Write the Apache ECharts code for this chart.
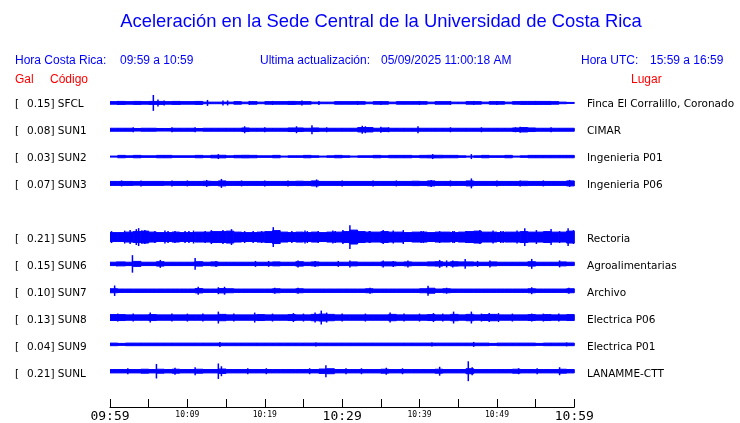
<!DOCTYPE html>
<html><head><meta charset="utf-8">
<script src="https://cdn.jsdelivr.net/npm/echarts@6/dist/echarts.min.js"></script>
<style>html,body{margin:0;padding:0;background:#fff}#c{width:740px;height:423px}</style>
</head><body><div id="c"></div>
<script>
// ---- data ----
const codes = ['SFCL','SUN1','SUN2','SUN3','SUN5','SUN6','SUN7','SUN8','SUN9','SUNL'];
const gals = ['0.15','0.08','0.03','0.07','0.21','0.15','0.10','0.13','0.04','0.21'];
const places = ['Finca El Corralillo, Coronado','CIMAR','Ingenieria P01','Ingenieria P06','Rectoria','Agroalimentarias','Archivo','Electrica P06','Electrica P01','LANAMME-CTT'];
const lanes = [13,40,67,94,148,175,202,229,256,283]; // trace baseline positions (vertical axis units)
const tickLabels = ['09:59','10:09','10:19','10:29','10:39','10:49','10:59'];
const bigLabels = ['09:59','10:29','10:59'];

// envelope half-width per minute (0..59)
const envSFCL = [1.3,1.5,1.3,1.5,1.3, 1.5,1.5,1.3,1.5,1.3, 1.3,1.5,0.8,0.8,0.8, 0.8,1.3,0.8,1.3,0.8, 1.3,1.3,1.3,1.5,1.3, 1.3,0.8,0.8,0.8,1.3, 1.3,1.3,1.3,0.8,1.3, 1.3,0.8,1.3,1.3,1.3, 1.3,0.8,1.3,1.3,0.8, 0.8,1.3,1.3,0.8,1.3, 1.3,0.8,1.3,1.5,1.5, 1.5,1.5,1.3,0.8,0.5];
const envSUN1 = [1.5,1.5,1.5,1.3,1.5, 1.5,1.3,1.3,1.5,1.5, 1.5,1.3,1.5,1.5,1.5, 1.5,1.5,1.8,1.5,1.5, 1.5,1.5,1.5,1.8,1.8, 1.5,1.8,1.5,1.5,1.5, 1.5,1.5,2.2,2.2,1.5, 1.8,1.5,1.5,1.5,1.5, 1.5,1.5,1.5,1.5,1.5, 1.5,1.5,1.5,1.5,1.5, 1.5,1.5,1.8,2.2,1.8, 1.5,1.5,1.5,1.5,1.5];
const envSUN2 = [0.5,1.2,0.8,1.2,0.8, 0.8,1.2,1.2,0.8,0.8, 0.8,1.2,0.8,1.3,1.3, 0.8,1.2,1.3,1.2,0.8, 0.8,1.2,0.5,0.8,0.8, 1.2,0.8,0.5,0.8,1.2, 0.8,0.5,0.8,0.8,1.2, 0.8,1.2,1.2,1.2,0.8, 1.2,1.3,1.3,1.2,1.2, 0.8,0.5,0.8,1.2,0.8, 0.8,1.2,0.5,0.8,1.2, 1.2,1.2,1.2,1.2,1.2];
const envSUN3 = [2,2,2,1.8,2, 2,2,1.8,2,2, 2,2,2.2,2,2.5, 2,2,2,2,2, 2,2,2,2,2.2, 2,2.5,2,2,2, 2,2,2,2,2, 2,2,2,2,2.2, 2,2.5,2,2,2, 2,2.5,2,2,2, 2,2,2,2.2,2, 2,2,2,2,2.5];
const envSUN5 = [4.5,4.5,5,5.5,6, 5,4.5,4.5,5,4.5, 4.5,5,5,5.5,5.5, 6,5,4.5,4.5,5, 5.5,6.5,5,4.5,5, 4.5,5,4.5,5,5, 5.5,7,5.5,5,5, 5.5,5,5,4.5,5, 5,4.5,5,5,4.5, 5,5.5,6,5,5, 4.5,5,5,5.5,5, 5,5.5,5,5,6];
const envSUN6 = [1.7,2,1.7,2.5,1.7, 1.7,2.2,1.7,1.7,1.7, 1.7,2.2,1.7,2,1.7, 1.7,1.7,1.7,1.7,1.7, 1.7,2,1.7,1.7,2.2, 1.7,2,1.7,1.7,1.7, 1.7,2,1.7,1.7,1.7, 2,2,1.7,2,1.7, 1.7,2,2.2,1.7,2.2, 2,2,1.7,1.7,2, 1.7,1.7,1.7,1.7,2.2, 1.7,1.7,1.7,2,1.7];
const envSUN7 = [2,1.7,1.7,1.7,1.7, 1.7,1.7,1.7,1.7,1.7, 1.7,2.2,1.7,1.7,2.2, 2,1.7,1.7,1.7,1.7, 1.7,2,1.7,1.7,2, 1.7,1.7,1.7,1.7,1.7, 1.7,1.7,1.7,2,1.7, 1.7,1.7,1.7,1.7,1.7, 2,2.5,1.7,2,1.7, 1.7,1.7,1.7,1.7,1.7, 1.7,1.7,1.7,1.7,2, 1.7,1.7,1.7,1.7,2];
const envSUN8 = [3,3,2.7,2.7,2.7, 3,2.7,2.7,2.7,2.7, 2.7,2.7,2.7,2.7,3.2, 2.7,2.7,2.7,2.7,3, 2.7,2.7,2.7,3,2.7, 2.7,3.2,3.5,3.2,2.7, 2.7,2.7,2.7,2.7,2.7, 2.7,3.2,2.7,2.7,2.7, 2.7,3,2.7,2.7,3.2, 2.7,3.2,2.7,3,3.2, 2.7,2.7,2.7,2.7,3, 2.7,3,2.7,2.7,3];
const envSUN9 = [1.3,1.0,1.3,1.3,1.3, 1.3,1.3,1.3,1.3,1.3, 1.3,1.3,1.3,1.3,1.3, 1.3,1.3,1.3,1.3,1.3, 1.3,1.3,1.3,1.3,1.3, 1.3,1.3,1.3,1.3,1.3, 1.3,1.3,1.3,1.3,1.3, 1.3,1.3,1.3,1.3,1.3, 1.3,1.3,1.3,1.3,1.3, 1.3,1.3,1.3,1.3,1.0, 1.3,1.3,1.3,1.3,1.3, 1.0,1.3,1.3,1.3,1.3];
const envSUNL = [1.7,1.7,1.7,1.7,2, 1.7,2,1.7,2,1.7, 1.7,2,1.7,1.7,2.2, 1.7,1.7,1.7,1.7,1.7, 1.7,1.7,1.7,1.7,1.7, 1.7,1.7,2.2,2.5,1.7, 1.7,1.7,1.7,1.7,1.7, 2,1.7,1.7,1.7,1.7, 1.7,1.7,2,1.7,1.7, 1.7,2.5,1.7,1.7,1.7, 1.7,1.7,2,1.7,1.7, 1.7,1.7,1.7,2,1.7];

// spikes: [minute, half-height]
const spkSFCL = [[1,2],[5.6,8],[6.2,3.5],[7.0,2.5],[9,2],[12.6,3],[14.6,2.5],[15.2,2.5],[18,2],[21,2],[24.8,2.5],[27,2],[32,2],[35,2],[40,2],[44,2],[47,2],[50,2],[55,2]];
const spkSUN1 = [[3,2.5],[8,2.5],[11,2.5],[17.4,3.5],[20,2.5],[24.1,3.5],[26.1,4.5],[28,2.5],[32.6,4],[33.0,3.5],[35,3],[36,2.5],[39.8,3.5],[44,2.5],[48,2.5],[52.4,2.5],[53,3],[57,2.5]];
const spkSUN2 = [[14,2.5],[41.7,2.5],[46.7,2.5]];
const spkSUN3 = [[1.5,3],[4,3],[8,3],[10,3],[12.5,3.5],[14.4,4.5],[17,3],[20,3],[23,3],[26.7,4],[30,3],[34,3],[37,3],[41.5,3.5],[44,3],[46.7,5],[50,3],[53,3],[56,3],[59.4,3.5]];
const spkSUN5 = [[0.2,6],[1.9,6.5],[2.6,7],[3.4,8],[3.7,9],[4.1,6.5],[4.5,7],[5.8,6],[7.1,6.5],[7.5,6],[8.4,6],[9.7,6],[10.2,6],[10.8,6.5],[12.3,6],[13.1,7],[14.6,7],[15.7,8],[17.4,6],[18.5,6],[19.6,6],[21.1,10],[21.8,7],[23.5,6],[25.2,6.5],[25.5,6],[26.9,6],[28.8,6.5],[29.1,6],[30.1,7],[31,12],[31.9,7],[33.5,6],[33.6,6],[35.3,7],[36.6,6.5],[37.9,7],[40.2,6],[40.5,6],[42.6,6],[44.3,6],[44.5,6],[46.0,6],[47.8,7],[49.5,6.5],[50.5,6],[50.8,6],[52.6,6.5],[53.6,9],[55.1,7],[57,8],[58.1,6],[59.2,9],[59.9,7]];
const spkSUN6 = [[0.9,2.5],[2.9,8.8],[6.5,4],[11,6],[13.7,3],[18.8,3],[20.5,3],[24.3,3.5],[26.5,3],[29.5,3],[31,3.5],[35.3,3.5],[36.6,3],[38.5,3.5],[42.6,4],[43.5,3.5],[44.3,3.5],[45.9,5],[47.5,3],[49.1,3.5],[54.5,5],[58.1,3.5]];
const spkSUN7 = [[0.6,5.3],[11.4,4],[14,3.5],[14.8,4],[21.3,3],[24.3,3],[33.6,3],[41.1,5],[43.5,3],[54.5,3.5],[59.3,3]];
const spkSUN8 = [[1,4],[3,4],[5.2,5],[8,4],[10,4],[12,4],[14,6],[16,4],[18.7,5],[21,4],[23.7,4.5],[25,4],[26.5,5],[27.3,7],[28.0,5],[30,4],[33,4],[36.2,5],[38,4],[40,4],[41.8,4.5],[43,4],[44.4,6],[46.7,6],[48,4],[49,4.5],[50.2,4.5],[52,4],[54.5,4],[56,4],[58,4]];
const spkSUN9 = [[14.2,2.5],[26.6,2],[41.6,2],[47,2.5],[59,2]];
const spkSUNL = [[2.3,3],[6,7.3],[8.4,3.5],[11,4],[14,7.8],[14.4,5],[17.8,3],[20.2,3],[25.8,3],[27.9,6],[30.5,3],[32.5,3],[35.7,3.5],[37.8,3],[42.6,4.5],[46.3,10],[46.8,4],[52.8,3],[55.2,3],[58.1,4]];

const envs = [envSFCL,envSUN1,envSUN2,envSUN3,envSUN5,envSUN6,envSUN7,envSUN8,envSUN9,envSUNL];
const spks = [spkSFCL,spkSUN1,spkSUN2,spkSUN3,spkSUN5,spkSUN6,spkSUN7,spkSUN8,spkSUN9,spkSUNL];

// ---- build ----
const BLUE = '#0000ff';
const envData = [], spkData = [];
envs.forEach((arr, k) => arr.forEach((a, i) => envData.push([i + 0.5, a, lanes[k]])));
spks.forEach((arr, k) => arr.forEach(s => spkData.push([s[0], s[1], lanes[k]])));

// traces drawn with a 1px pen: the envelope is stroked as well as filled
function envItem(params, api) {
  const t = api.value(0), a = Math.max(api.value(1), 0.3), lane = api.value(2);
  const p1 = api.coord([t - 0.5, lane - a]), p2 = api.coord([t + 0.5, lane + a]);
  return { type: 'rect', shape: { x: p1[0], y: Math.min(p1[1], p2[1]), width: p2[0] - p1[0], height: Math.abs(p2[1] - p1[1]) }, style: { fill: BLUE, stroke: BLUE, lineWidth: 1 } };
}
function spkItem(params, api) {
  const t = api.value(0), a = api.value(1), lane = api.value(2);
  const p1 = api.coord([t, lane - a]), p2 = api.coord([t, lane + a]);
  return { type: 'rect', shape: { x: p1[0] - 0.75, y: Math.min(p1[1], p2[1]), width: 1.5, height: Math.abs(p2[1] - p1[1]) }, style: { fill: BLUE } };
}

const graphics = [];
const txt = (x, y, s, o) => graphics.push(Object.assign({ type: 'text', x: x, y: y, style: Object.assign({ text: s, fill: '#000', font: '10.5px "DejaVu Sans"', textVerticalAlign: 'middle' }, o || {}) }));
txt(381, 22, 'Aceleración en la Sede Central de la Universidad de Costa Rica', { fill: BLUE, font: '18.4px "Liberation Sans"', textAlign: 'center' });
const hf = '12px "Liberation Sans"';
txt(15, 61, 'Hora Costa Rica:', { fill: BLUE, font: hf });
txt(120, 61, '09:59 a 10:59', { fill: BLUE, font: hf });
txt(260, 61, 'Ultima actualización:', { fill: BLUE, font: hf });
txt(381, 61, '05/09/2025 11:00:18 AM', { fill: BLUE, font: hf });
txt(581, 61, 'Hora UTC:', { fill: BLUE, font: hf });
txt(650, 61, '15:59 a 16:59', { fill: BLUE, font: hf });
txt(15, 80, 'Gal', { fill: '#ff0000', font: hf });
txt(50, 80, 'Código', { fill: '#ff0000', font: hf });
txt(631, 80, 'Lugar', { fill: '#ff0000', font: hf });
codes.forEach((c, k) => {
  const y = 91 + lanes[k];
  txt(15, y, '[');
  txt(27, y, gals[k] + '] ' + c);
  txt(587, y, places[k]);
});

const chart = echarts.init(document.getElementById('c'));
chart.setOption({
  animation: false,
  grid: { left: 110, top: 90, width: 464.3, height: 319 },
  xAxis: {
    type: 'value', min: 0, max: 60, interval: 5, position: 'bottom',
    axisLine: { onZero: false, lineStyle: { color: '#000', width: 1 } },
    axisTick: { inside: true, length: 8, lineStyle: { color: '#000' } },
    splitLine: { show: false },
    axisLabel: {
      margin: 3, color: '#000', showMinLabel: true, showMaxLabel: true,
      formatter: v => {
        if (v % 10 !== 0) return '';
        const s = tickLabels[v / 10];
        return bigLabels.indexOf(s) >= 0 ? '{b|' + s + '}' : '{s|' + s + '}';
      },
      rich: {
        b: { fontFamily: 'DejaVu Sans Mono', fontSize: 13, color: '#000', lineHeight: 13 },
        s: { fontFamily: 'DejaVu Sans Mono', fontSize: 8, color: '#000', lineHeight: 10 }
      }
    }
  },
  yAxis: { type: 'value', min: 0, max: 319, inverse: true, show: false },
  series: [
    { type: 'custom', renderItem: envItem, data: envData, clip: true, silent: true },
    { type: 'custom', renderItem: spkItem, data: spkData, clip: true, silent: true }
  ],
  graphic: graphics
});
</script></body></html>
